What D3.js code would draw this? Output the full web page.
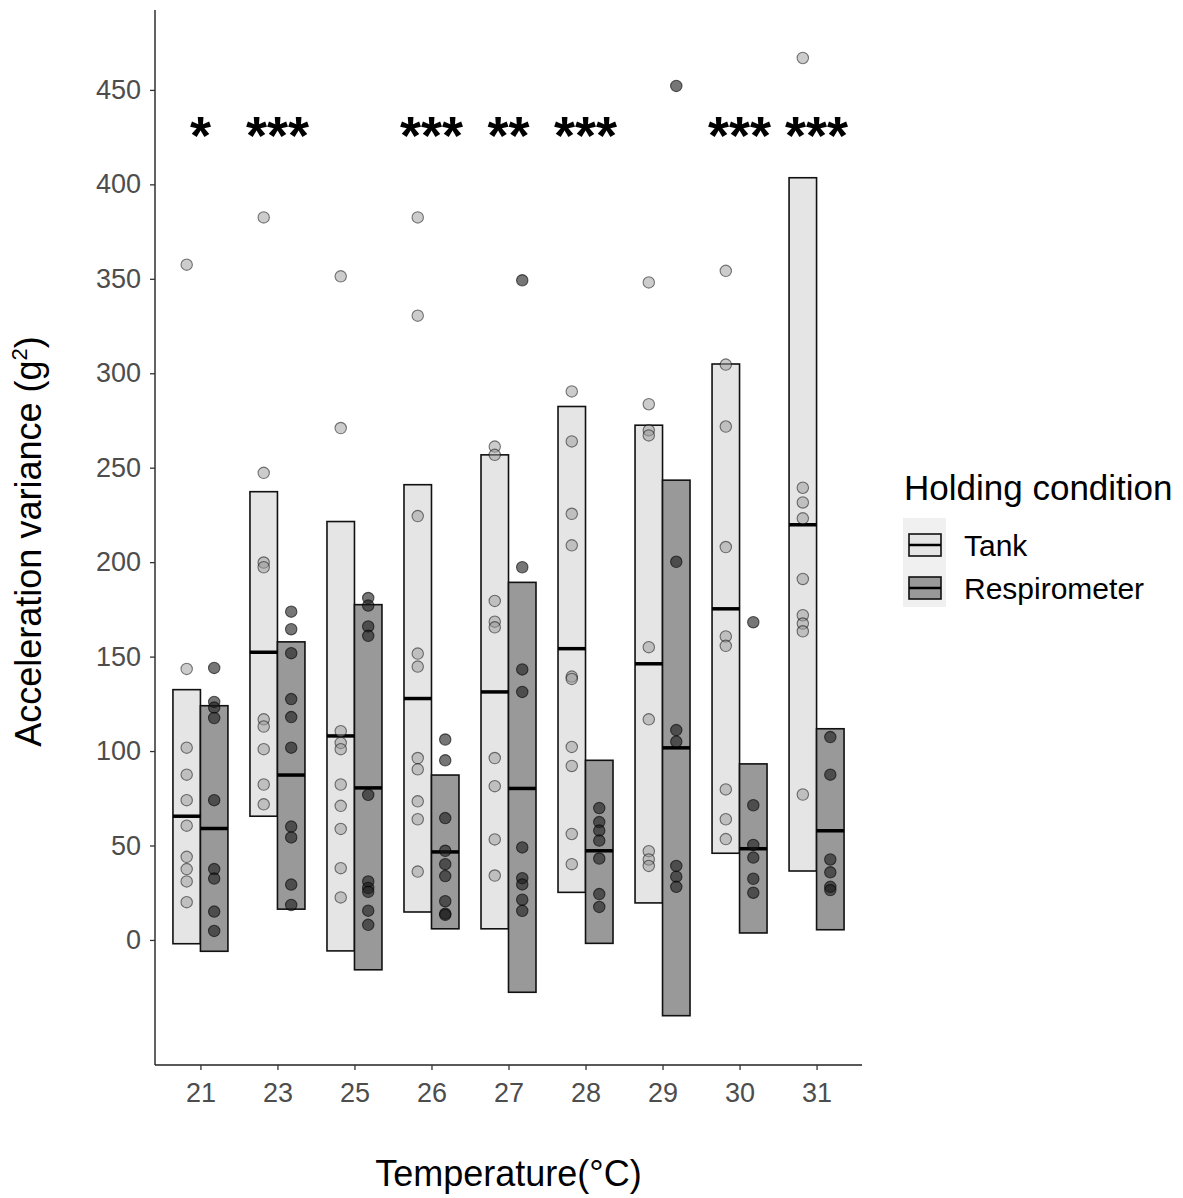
<!DOCTYPE html>
<html>
<head>
<meta charset="utf-8">
<script src="https://cdn.jsdelivr.net/npm/d3@7"></script>
<style>
  body { margin: 0; background: #fff; }
  text { font-family: "Liberation Sans", Arial, sans-serif; }
</style>
</head>
<body>
<svg id="chart" width="1183" height="1198"></svg>
<script>
// categories and significance labels
const temps = ["21", "23", "25", "26", "27", "28", "29", "30", "31"];
const sigLabels = ["*", "***", "", "***", "**", "***", "", "***", "***"];
const yTicks = [0, 50, 100, 150, 200, 250, 300, 350, 400, 450];
const groups = ["Tank", "Respirometer"];

// crossbar values (mean with lower / upper limits)
const tankMean = [65.5, 152.3, 108, 127.8, 131.3, 154.2, 146.2, 175.3, 219.8];
const tankLow  = [-2, 65.5, -5.8, 14.8, 5.9, 25.2, 19.6, 45.9, 36.5];
const tankHigh = [132.5, 237.3, 221.5, 241.0, 256.8, 282.4, 272.5, 304.9, 403.5];
const respMean = [59, 87.3, 80.5, 46.6, 80.2, 47.2, 101.7, 48.3, 57.8];
const respLow  = [-6, 16.3, -15.8, 5.9, -27.7, -1.8, -40.1, 3.7, 5.4];
const respHigh = [124, 157.8, 177.5, 87.3, 189.3, 95.1, 243.4, 93.2, 111.8];

// individual observations
const tankPoints = [
  [357.5, 143.5, 101.8, 87.5, 74, 60.5, 44, 37.5, 31, 20],
  [382.5, 247.3, 199.8, 197.3, 116.8, 113, 101, 82.3, 71.8],
  [351.3, 271, 110.5, 104.3, 101, 82.3, 71, 58.8, 38, 22.5],
  [382.5, 330.5, 224.4, 151.6, 144.7, 96.3, 90.3, 73.4, 63.9, 36.2],
  [261.2, 256.8, 179.5, 168.5, 165.5, 96.3, 81.4, 53.2, 34.1],
  [290.4, 263.9, 225.6, 208.9, 139.4, 138.2, 102.2, 92.1, 56.1, 40.1],
  [348.1, 283.6, 269.8, 267.1, 155, 116.8, 47, 42.6, 39.2],
  [354.2, 304.6, 271.8, 208, 160.7, 155.7, 79.7, 63.9, 53.4],
  [466.9, 239.4, 231.6, 223.2, 191.1, 171.9, 167.5, 163.4, 77]
];
const respPoints = [
  [144, 126, 123, 117.5, 74, 37.5, 32.5, 15, 4.8],
  [173.8, 164.5, 151.8, 127.5, 118, 101.8, 60, 54.3, 29.3, 18.5],
  [181, 177, 166, 161, 76.8, 31, 27.5, 25.5, 15.5, 8],
  [106.1, 95.1, 64.5, 47.2, 40.1, 33.8, 20.5, 13.9, 13.3],
  [349.2, 197.3, 143.2, 131.3, 49, 32.7, 29.4, 21.3, 15.4],
  [69.8, 62.4, 57.9, 52.6, 43.1, 24.3, 17.5],
  [452.1, 200.2, 111.1, 105, 39.2, 33.5, 28.1],
  [168.2, 71.3, 50.3, 43.6, 32.4, 25],
  [107.4, 87.5, 42.6, 35.8, 28.1, 26.4]
];

const svg = d3.select("#chart");

const plot = {left: 155, right: 862, top: 10, bottom: 1065};

const x = d3.scalePoint()
  .domain(temps)
  .range([plot.left, plot.right])
  .padding(0.59);

const y = d3.scaleLinear()
  .domain([-66.2, 492.3])
  .range([plot.bottom, plot.top]);

const boxW = x.step() * 0.357;
const fills = {Tank: "#e5e5e5", Respirometer: "#999999"};
const ptFills = {Tank: "#9a9a9a", Respirometer: "#1a1a1a"};
const ptAlpha = {Tank: 0.5, Respirometer: 0.6};

// build rows for crossbars
const bars = [];
temps.forEach((t, i) => {
  bars.push({t, g: "Tank", mean: tankMean[i], lo: tankLow[i], hi: tankHigh[i], off: -1});
  bars.push({t, g: "Respirometer", mean: respMean[i], lo: respLow[i], hi: respHigh[i], off: 0});
});

const pts = [];
temps.forEach((t, i) => {
  tankPoints[i].forEach(v => pts.push({t, g: "Tank", v, off: -0.5}));
  respPoints[i].forEach(v => pts.push({t, g: "Respirometer", v, off: 0.5}));
});

const barG = svg.append("g");
barG.selectAll("rect")
  .data(bars)
  .join("rect")
  .attr("x", d => x(d.t) + d.off * boxW)
  .attr("y", d => y(d.hi))
  .attr("width", boxW)
  .attr("height", d => y(d.lo) - y(d.hi))
  .attr("fill", d => fills[d.g])
  .attr("stroke", "#111")
  .attr("stroke-width", 1.6);

barG.selectAll("line")
  .data(bars)
  .join("line")
  .attr("x1", d => x(d.t) + d.off * boxW)
  .attr("x2", d => x(d.t) + d.off * boxW + boxW)
  .attr("y1", d => y(d.mean))
  .attr("y2", d => y(d.mean))
  .attr("stroke", "#000")
  .attr("stroke-width", 3.5);

svg.append("g").selectAll("circle")
  .data(pts)
  .join("circle")
  .attr("cx", d => x(d.t) + d.off * boxW)
  .attr("cy", d => y(d.v))
  .attr("r", 5.7)
  .attr("fill", d => ptFills[d.g])
  .attr("stroke", "#000")
  .attr("stroke-width", 1.1)
  .attr("fill-opacity", d => ptAlpha[d.g])
  .attr("stroke-opacity", d => ptAlpha[d.g]);

// significance stars
svg.append("g").selectAll("text")
  .data(temps)
  .join("text")
  .attr("x", d => x(d))
  .attr("y", y(430) + 26)
  .attr("text-anchor", "middle")
  .attr("font-size", 54)
  .attr("font-weight", "bold")
  .attr("fill", "#000")
  .text((d, i) => sigLabels[i]);

// axes
const yAxis = d3.axisLeft(y).tickValues(yTicks).tickSize(5).tickPadding(9);
const yG = svg.append("g")
  .attr("transform", `translate(${plot.left},0)`)
  .call(yAxis);
yG.select(".domain").attr("d", `M0,${plot.top}V${plot.bottom}`).attr("stroke", "#222").attr("stroke-width", 1.4);
yG.selectAll(".tick line").attr("stroke", "#333").attr("stroke-width", 1.3);
yG.selectAll(".tick text")
  .attr("font-size", 27)
  .attr("fill", "#4d4d4d")
  .attr("font-family", "Liberation Sans, Arial, sans-serif");

const xAxis = d3.axisBottom(x).tickSize(5).tickPadding(13);
const xG = svg.append("g")
  .attr("transform", `translate(0,${plot.bottom})`)
  .call(xAxis);
xG.select(".domain").attr("d", `M${plot.left},0H${plot.right}`).attr("stroke", "#222").attr("stroke-width", 1.4);
xG.selectAll(".tick line").attr("stroke", "#333").attr("stroke-width", 1.3);
xG.selectAll(".tick text")
  .attr("font-size", 27)
  .attr("fill", "#4d4d4d")
  .attr("font-family", "Liberation Sans, Arial, sans-serif");

// axis titles
svg.append("text")
  .attr("x", (plot.left + plot.right) / 2)
  .attr("y", 1186)
  .attr("text-anchor", "middle")
  .attr("font-size", 36)
  .attr("fill", "#000")
  .text("Temperature(°C)");

const yTitle = svg.append("text")
  .attr("transform", `translate(41,${(plot.top + plot.bottom) / 2 + 4}) rotate(-90)`)
  .attr("text-anchor", "middle")
  .attr("font-size", 36)
  .attr("fill", "#000");
yTitle.append("tspan").text("Acceleration  variance (g");
yTitle.append("tspan").attr("font-size", 22).attr("dy", -14).text("2");
yTitle.append("tspan").attr("dy", 14).text(")");

// legend
const leg = svg.append("g");
leg.append("text")
  .attr("x", 904)
  .attr("y", 500)
  .attr("font-size", 35)
  .attr("fill", "#000")
  .text("Holding condition");

leg.append("rect")
  .attr("x", 903).attr("y", 518)
  .attr("width", 43).attr("height", 89)
  .attr("fill", "#f0f0f0");

const keys = leg.selectAll("g.key")
  .data(groups)
  .join("g")
  .attr("class", "key")
  .attr("transform", (d, i) => `translate(0,${i * 43})`);

keys.append("rect")
  .attr("x", 909).attr("y", 534)
  .attr("width", 32).attr("height", 22)
  .attr("fill", d => fills[d])
  .attr("stroke", "#111")
  .attr("stroke-width", 1.6);

keys.append("line")
  .attr("x1", 909).attr("x2", 941)
  .attr("y1", 545).attr("y2", 545)
  .attr("stroke", "#000")
  .attr("stroke-width", 2.5);

keys.append("text")
  .attr("x", 964)
  .attr("y", 556)
  .attr("font-size", 30)
  .attr("fill", "#000")
  .text(d => d);
</script>
</body>
</html>
